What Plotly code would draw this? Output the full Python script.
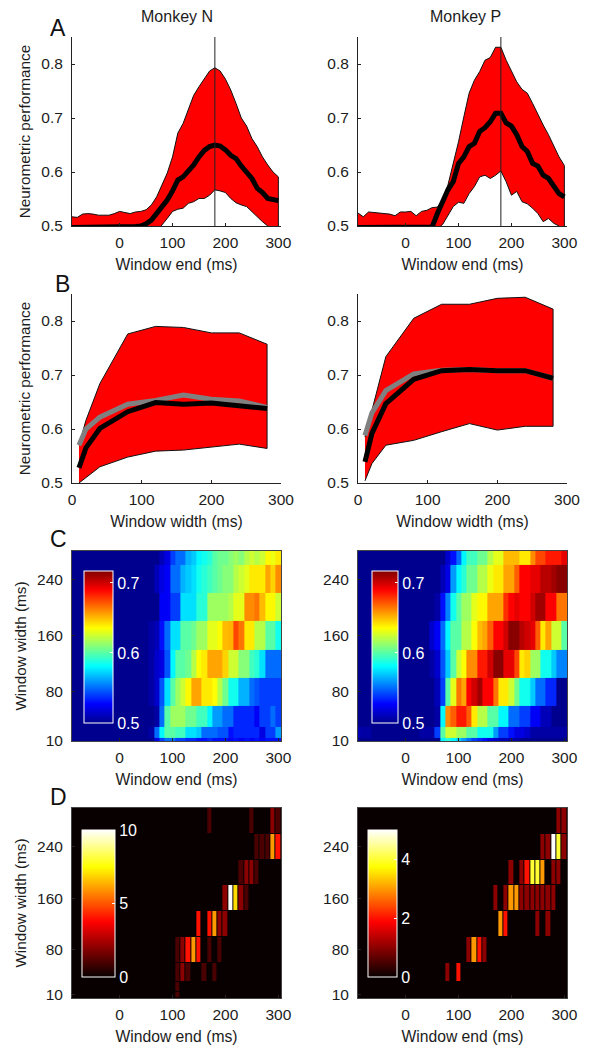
import plotly.graph_objects as go

# ---------- shared axes values ----------
window_end = [-90,-80,-70,-60,-50,-40,-30,-20,-10,0,10,20,30,40,50,60,70,80,90,100,110,120,130,140,150,160,170,180,190,200,210,220,230,240,250,260,270,280,290,300]
window_width = [10,20,40,80,120,160,200,240,280]
cell_x_edges = [-95,-85,-75,-65,-55,-45,-35,-25,-15,-5,5,15,25,35,45,55,65,75,85,95,105,115,125,135,145,155,165,175,185,195,205,215,225,235,245,255,265,275,285,295,305]
cell_y_edges = [5,15,30,60,100,140,180,220,260,300]

# ---------- panel A ----------
a_n_upper = [.517,.516,.522,.523,.522,.52,.52,.52,.523,.527,.525,.523,.526,.527,.53,.539,.554,.576,.598,.628,.672,.69,.715,.742,.758,.773,.787,.793,.787,.772,.752,.727,.70,.685,.662,.647,.628,.613,.60,.591]
a_n_mean = [.497,.497,.497,.497,.497,.497,.497,.499,.497,.497,.499,.499,.499,.500,.504,.511,.523,.536,.548,.565,.585,.591,.602,.613,.628,.64,.647,.65,.648,.641,.631,.625,.611,.60,.588,.57,.562,.551,.55,.547]
a_n_lower = [.49,.49,.49,.49,.49,.49,.49,.49,.49,.49,.49,.49,.49,.49,.49,.49,.49,.501,.514,.527,.531,.533,.542,.545,.551,.551,.557,.567,.565,.562,.551,.543,.539,.536,.527,.517,.508,.50,.495,.49]
a_p_upper = [.524,.517,.526,.525,.524,.523,.522,.519,.526,.526,.527,.519,.527,.529,.534,.535,.548,.576,.616,.656,.702,.746,.77,.786,.807,.812,.831,.831,.807,.786,.767,.753,.746,.727,.706,.687,.669,.647,.628,.612]
a_p_mean = [.497,.497,.497,.497,.497,.497,.499,.499,.497,.497,.499,.497,.497,.497,.498,.523,.548,.567,.582,.616,.628,.647,.653,.675,.682,.693,.709,.709,.691,.685,.669,.647,.638,.616,.611,.594,.588,.573,.56,.554]
a_p_lower = [.49,.49,.49,.49,.49,.49,.49,.49,.49,.49,.49,.49,.49,.49,.49,.495,.503,.52,.536,.544,.542,.56,.573,.591,.594,.588,.594,.602,.582,.557,.564,.545,.541,.533,.523,.508,.514,.505,.50,.49]
peak_time = [180, 180]
peak_span = [0.5, 0.85]

# ---------- panel B ----------
b_n_upper = [.57,.616,.684,.776,.79,.788,.778,.778,.757]
b_n_lower = [.50,.511,.53,.548,.559,.561,.567,.572,.564]
b_n_mean = [.528,.565,.601,.632,.649,.646,.648,.643,.638]
b_n_gray = [.57,.60,.622,.646,.653,.663,.655,.652,.64]
b_p_upper = [.585,.635,.734,.805,.831,.831,.842,.844,.822]
b_p_lower = [.504,.536,.57,.579,.595,.61,.598,.605,.605]
b_p_mean = [.539,.592,.647,.692,.708,.71,.708,.708,.694]
b_p_gray = [.588,.63,.671,.702,.709,.71,.708,.708,.694]

# ---------- panel C (rows from width 10 up to width 280) ----------
c_n_10 = [.5,.5,.5,.5,.5,.5,.5,.5,.5,.5,.5,.5,.5,.5,.5,.5,.52,.54,.55,.55,.54,.54,.535,.535,.53,.53,.535,.53,.53,.53,.525,.53,.525,.53,.525,.53,.525,.53,.53,.53]
c_n_20 = [.5,.5,.5,.5,.5,.5,.5,.5,.5,.5,.5,.5,.5,.5,.5,.505,.55,.58,.60,.60,.595,.595,.575,.575,.57,.55,.55,.55,.545,.545,.53,.535,.535,.535,.535,.535,.52,.54,.54,.56]
c_n_40 = [.5,.5,.5,.5,.5,.5,.5,.5,.5,.5,.5,.5,.5,.5,.5,.5,.505,.55,.60,.615,.615,.615,.605,.605,.595,.595,.58,.56,.56,.55,.55,.535,.535,.535,.535,.525,.54,.54,.55,.54]
c_n_80 = [.5,.5,.5,.5,.5,.5,.5,.5,.5,.5,.5,.5,.5,.5,.5,.505,.515,.545,.575,.60,.615,.625,.637,.655,.655,.64,.64,.635,.62,.605,.585,.585,.565,.565,.55,.545,.54,.54,.54,.54]
c_n_120 = [.5,.5,.5,.5,.5,.5,.5,.5,.5,.5,.5,.5,.5,.5,.5,.505,.515,.52,.545,.58,.60,.60,.605,.62,.635,.64,.655,.655,.655,.645,.625,.625,.61,.61,.595,.59,.575,.55,.55,.55]
c_n_160 = [.5,.5,.5,.5,.5,.5,.5,.5,.5,.5,.5,.5,.5,.5,.5,.505,.51,.53,.55,.575,.575,.60,.60,.605,.615,.615,.63,.63,.635,.65,.652,.675,.665,.64,.64,.62,.62,.60,.60,.585]
c_n_200 = [.5,.5,.5,.5,.5,.5,.5,.5,.5,.5,.5,.5,.5,.5,.5,.5,.5,.525,.525,.54,.54,.575,.575,.575,.59,.59,.615,.615,.615,.615,.62,.63,.63,.66,.66,.665,.65,.637,.637,.625]
c_n_240 = [.5,.5,.5,.5,.5,.5,.5,.5,.5,.5,.5,.5,.5,.5,.5,.5,.51,.52,.525,.55,.55,.565,.57,.575,.585,.59,.595,.60,.605,.61,.61,.62,.625,.63,.64,.64,.64,.655,.645,.66]
c_n_280 = [.5,.5,.5,.5,.5,.5,.5,.5,.5,.5,.5,.5,.5,.5,.5,.5,.5,.51,.52,.54,.55,.55,.565,.57,.58,.585,.59,.60,.605,.605,.61,.615,.61,.62,.625,.62,.625,.637,.632,.64]

c_p_10 = [.5,.5,.5,.5,.5,.5,.5,.5,.5,.5,.5,.5,.5,.5,.5,.5,.58,.59,.58,.57,.56,.55,.54,.535,.53,.52,.515,.51,.51,.505,.505,.5,.5,.5,.5,.5,.5,.5,.5,.5]
c_p_20 = [.51,.505,.505,.5,.5,.5,.5,.5,.5,.5,.5,.5,.505,.505,.505,.54,.60,.625,.625,.615,.615,.60,.60,.585,.585,.585,.56,.54,.54,.53,.52,.52,.515,.505,.505,.505,.505,.505,.505,.505]
c_p_40 = [.5,.5,.5,.5,.5,.5,.5,.5,.5,.5,.5,.5,.5,.5,.5,.505,.58,.66,.67,.685,.685,.67,.64,.62,.62,.60,.60,.58,.58,.55,.55,.54,.54,.525,.525,.51,.51,.5,.5,.5]
c_p_80 = [.5,.5,.5,.5,.5,.5,.5,.5,.5,.5,.5,.5,.5,.5,.5,.51,.54,.60,.63,.665,.655,.69,.70,.71,.69,.69,.665,.64,.64,.625,.605,.585,.585,.57,.55,.55,.535,.535,.5,.5]
c_p_120 = [.5,.5,.5,.5,.5,.5,.5,.5,.5,.5,.5,.5,.5,.5,.505,.515,.545,.57,.60,.625,.635,.66,.66,.685,.685,.70,.715,.715,.695,.695,.675,.64,.645,.615,.615,.585,.585,.57,.555,.555]
c_p_160 = [.5,.5,.5,.5,.5,.5,.5,.5,.5,.5,.5,.5,.5,.5,.515,.525,.55,.58,.60,.60,.62,.62,.635,.65,.655,.67,.69,.69,.70,.715,.715,.705,.70,.695,.67,.64,.655,.625,.625,.60]
c_p_200 = [.5,.5,.5,.5,.5,.5,.5,.5,.5,.5,.5,.5,.5,.5,.5,.505,.53,.555,.585,.60,.615,.615,.63,.637,.637,.655,.655,.655,.68,.69,.695,.69,.69,.70,.71,.71,.69,.69,.665,.665]
c_p_240 = [.5,.5,.5,.5,.5,.5,.5,.5,.5,.5,.5,.5,.5,.5,.5,.5,.51,.52,.56,.58,.59,.605,.605,.62,.62,.632,.64,.64,.655,.655,.67,.69,.69,.695,.695,.705,.705,.71,.715,.715]
c_p_280 = [.5,.5,.5,.5,.5,.5,.5,.5,.5,.5,.5,.5,.5,.5,.5,.5,.5,.515,.53,.55,.58,.595,.595,.605,.605,.62,.63,.63,.65,.65,.65,.64,.64,.66,.675,.675,.685,.685,.685,.695]

# ---------- panel D (selected-window counts, {width: {window end: count}}) ----------
d_n_counts = {
    280: {170:1, 250:1, 290:2, 300:1},
    240: {260:1, 270:1, 280:1, 290:6, 300:4},
    200: {230:1, 240:2, 250:2, 260:1},
    160: {200:2, 210:10, 220:7, 230:2, 240:1},
    120: {150:4, 170:4, 180:6, 190:2, 200:2},
    80: {110:1, 120:2, 130:4, 140:6, 150:4, 170:1, 190:1},
    40: {110:1, 120:2, 130:1, 160:1, 180:1},
    20: {110:1},
    10: {110:1},
}
d_p_counts = {
    280: {290:1, 300:1},
    240: {260:1, 270:1, 280:5, 290:4, 300:1},
    200: {200:1, 220:1, 230:2, 240:4, 250:4, 260:3, 280:1, 290:1},
    160: {170:1, 190:1, 200:3, 210:3, 220:1, 230:1, 240:1, 250:1, 260:1, 270:1, 280:1},
    120: {180:3, 190:2, 250:1, 270:1},
    80: {120:1, 130:3, 140:2, 150:1},
    40: {80:1, 100:2},
    20: {},
    10: {},
}

panel_letters = ["A", "B", "C", "D"]
monkey_titles = ["Monkey N", "Monkey P"]

# ---------- styling ----------
W, H = 597, 1050
FONT = "Liberation Sans"
INK = "#1c1c1c"
JET = [[0, "rgb(0,0,143)"], [.125, "rgb(0,0,255)"], [.375, "rgb(0,255,255)"], [.625, "rgb(255,255,0)"], [.875, "rgb(255,0,0)"], [1, "rgb(128,0,0)"]]
HOT = [[0, "rgb(8,0,0)"], [.375, "rgb(255,0,0)"], [.75, "rgb(255,255,0)"], [1, "rgb(255,255,255)"]]

COLS = [(72, 281), (358, 567)]
ROWS = [(37, 226), (294, 483), (551, 741), (808, 998)]


def fx(px):
    return px / W


def fy(py):
    return 1 - py / H


def dom_x(c):
    return [fx(COLS[c][0]), fx(COLS[c][1])]


def dom_y(r):
    return [fy(ROWS[r][1]), fy(ROWS[r][0])]


fig = go.Figure()
layout = dict(
    width=W, height=H, margin=dict(l=0, r=0, t=0, b=0, autoexpand=False),
    paper_bgcolor="white", plot_bgcolor="white", showlegend=False,
    font=dict(family=FONT, size=16, color=INK),
)
shapes = []


def set_axes(idx, r, c, xtitle, ytitle, xr, yr, xticks, xlabels, yticks, ylabels, framed):
    sx, sy = ("" if idx == 1 else str(idx)), ("" if idx == 1 else str(idx))
    layout["xaxis" + sx] = dict(
        domain=dom_x(c), range=xr, anchor="y" + sy, tickmode="array", tickvals=xticks, ticktext=xlabels,
        ticks="inside", ticklen=3, tickwidth=1, tickcolor="#222", showgrid=False, zeroline=False,
        showline=True, linecolor="#444" if framed else "#222", linewidth=1, mirror=framed,
        tickfont=dict(size=15.5, color=INK), ticklabelstandoff=2,
        title=dict(text=xtitle, standoff=9, font=dict(size=15.7, color=INK)),
        automargin=False,
    )
    layout["yaxis" + sy] = dict(
        domain=dom_y(r), range=yr, anchor="x" + sx, tickmode="array", tickvals=yticks, ticktext=ylabels,
        ticks="inside", ticklen=3, tickwidth=1, tickcolor="#222", showgrid=False, zeroline=False,
        showline=True, linecolor="#444" if framed else "#222", linewidth=1, mirror=framed,
        tickfont=dict(size=15.5, color=INK), ticklabelstandoff=5,
        title=dict(text=ytitle, standoff=6, font=dict(size=15.3, color=INK)),
        automargin=False,
    )


def band(idx, x, upper, lower, mean, gray, width):
    sx = "" if idx == 1 else str(idx)
    fig.add_trace(go.Scatter(
        x=list(x) + list(x)[::-1], y=list(upper) + list(lower)[::-1], mode="lines",
        fill="toself", fillcolor="rgb(255,0,0)", line=dict(color="#111", width=1),
        xaxis="x" + sx, yaxis="y" + sx, hoverinfo="skip"))
    if gray is not None:
        fig.add_trace(go.Scatter(x=x, y=gray, mode="lines", line=dict(color="#808080", width=width),
                                 xaxis="x" + sx, yaxis="y" + sx))
    fig.add_trace(go.Scatter(x=x, y=mean, mode="lines", line=dict(color="black", width=width),
                             xaxis="x" + sx, yaxis="y" + sx))


def heat(idx, rows, scale, zmin, zmax, cb_left, cb_width, cb_top, cb_bottom, cb_ticks, cb_labels, gap):
    sx = "" if idx == 1 else str(idx)
    fig.add_trace(go.Heatmap(
        x=cell_x_edges, y=cell_y_edges, z=rows, colorscale=scale, zmin=zmin, zmax=zmax,
        xgap=gap, ygap=gap, xaxis="x" + sx, yaxis="y" + sx,
        colorbar=dict(
            x=fx(cb_left), xanchor="left", y=fy(cb_bottom), yanchor="bottom", yref="paper", xref="paper",
            len=cb_bottom - cb_top, lenmode="pixels", thickness=cb_width, thicknessmode="pixels",
            xpad=0, ypad=0, outlinecolor="white", outlinewidth=1, borderwidth=0,
            tickmode="array", tickvals=cb_ticks, ticktext=cb_labels, ticks="inside", ticklen=3,
            tickcolor="white", tickfont=dict(size=16, color="white"),
        )))


def grid(counts):
    return [[counts[w].get(t, 0) for t in window_end] for w in window_width]


x_ticks = [0, 100, 200, 300]
x_tick_text = ["0", "100", "200", "300"]
y_ticks = [0.5, 0.6, 0.7, 0.8]
y_tick_text = ["0.5", "0.6", "0.7", "0.8"]
w_ticks = [10, 80, 160, 240]
w_tick_text = ["10", "80", "160", "240"]
end_range = [-90, 305]

# Row A
for c, (idx, up, me, lo) in enumerate([(1, a_n_upper, a_n_mean, a_n_lower), (2, a_p_upper, a_p_mean, a_p_lower)]):
    set_axes(idx, 0, c, "Window end (ms)", "Neurometric performance" if c == 0 else None, end_range, [0.5, 0.85],
             x_ticks, x_tick_text, y_ticks, y_tick_text, False)
    band(idx, window_end, up, lo, me, None, 5)
    sx = "" if idx == 1 else str(idx)
    fig.add_trace(go.Scatter(x=peak_time, y=peak_span, mode="lines", line=dict(color="#222", width=1),
                             xaxis="x" + sx, yaxis="y" + sx))

# Row B
for c, (idx, up, lo, me, gr) in enumerate([(3, b_n_upper, b_n_lower, b_n_mean, b_n_gray), (4, b_p_upper, b_p_lower, b_p_mean, b_p_gray)]):
    set_axes(idx, 1, c, "Window width (ms)", "Neurometric performance" if c == 0 else None, [0, 300], [0.5, 0.85],
             x_ticks, x_tick_text, y_ticks, y_tick_text, False)
    band(idx, window_width, up, lo, me, gr, 5)

# Row C
c_n = [c_n_10, c_n_20, c_n_40, c_n_80, c_n_120, c_n_160, c_n_200, c_n_240, c_n_280]
c_p = [c_p_10, c_p_20, c_p_40, c_p_80, c_p_120, c_p_160, c_p_200, c_p_240, c_p_280]
set_axes(5, 2, 0, "Window end (ms)", "Window width (ms)", end_range, [10, 280], x_ticks, x_tick_text, w_ticks, w_tick_text, True)
set_axes(6, 2, 1, "Window end (ms)", None, end_range, [10, 280], x_ticks, x_tick_text, w_ticks, w_tick_text, True)
heat(5, c_n, JET, 0.5, 0.717, 84, 29, 571, 723, [0.5, 0.6, 0.7], ["0.5", "0.6", "0.7"], 0)
heat(6, c_p, JET, 0.5, 0.717, 372, 26, 571, 723, [0.5, 0.6, 0.7], ["0.5", "0.6", "0.7"], 0)

# Row D
set_axes(7, 3, 0, "Window end (ms)", "Window width (ms)", end_range, [5, 300], x_ticks, x_tick_text, w_ticks, w_tick_text, True)
set_axes(8, 3, 1, "Window end (ms)", None, end_range, [5, 300], x_ticks, x_tick_text, w_ticks, w_tick_text, True)
for i in (7, 8):
    shapes.append(dict(type="rect", xref=f"x{i} domain", yref=f"y{i} domain", x0=0, x1=1, y0=0, y1=1,
                       fillcolor="rgb(8,0,0)", line=dict(width=0), layer="below"))
heat(7, grid(d_n_counts), HOT, 0, 10, 82, 33, 830, 977, [0, 5, 10], ["0", "5", "10"], 1)
heat(8, grid(d_p_counts), HOT, 0, 5, 368, 29, 830, 977, [0, 2, 4], ["0", "2", "4"], 1)

annotations = []
for text, px, py in zip(panel_letters, [58, 62, 58, 58], [28, 284, 539, 797]):
    annotations.append(dict(text=text, x=fx(px), y=fy(py), xref="paper", yref="paper", showarrow=False,
                            xanchor="center", yanchor="middle", font=dict(size=23, color="#111")))
for text, px in zip(monkey_titles, [177, 465]):
    annotations.append(dict(text=text, x=fx(px), y=fy(16), xref="paper", yref="paper", showarrow=False,
                            xanchor="center", yanchor="middle", font=dict(size=16, color=INK)))
layout["annotations"] = annotations
layout["shapes"] = shapes

fig.update_layout(**layout)
fig.write_html("out.html", config=dict(displayModeBar=False),
               post_script="document.body.style.margin='0';document.body.style.overflow='hidden';")
